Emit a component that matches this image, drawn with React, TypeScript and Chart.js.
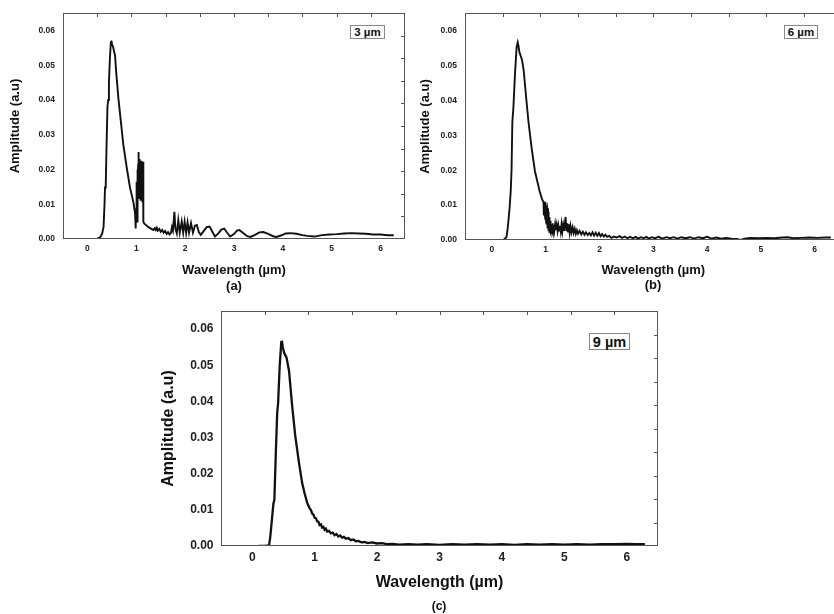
import React, { useEffect, useRef } from "react";
import { Chart, registerables } from "chart.js";

Chart.register(...registerables);

// ---------- axis ticks / labels ----------
const xTickValues = [0, 1, 2, 3, 4, 5, 6];
const xTickLabels = ["0", "1", "2", "3", "4", "5", "6"];
const yTickValues = [0, 0.01, 0.02, 0.03, 0.04, 0.05, 0.06];
const yTickLabels = ["0.00", "0.01", "0.02", "0.03", "0.04", "0.05", "0.06"];
const frameTickValues = [1, 2, 3, 4, 5, 6, 7, 8, 9];
const xAxisTitle = "Wavelength (µm)";
const yAxisTitle = "Amplitude (a.u)";
const panelTags = ["3 µm", "6 µm", "9 µm"];
const panelCaptions = ["(a)", "(b)", "(c)"];

// ---------- series (wavelength µm, amplitude a.u) ----------
const spectrum3um: [number, number][] = [
  [0.09, 0], [0.2, 0.0001], [0.26, 0.0005], [0.3, 0.0015], [0.33, 0.0035], [0.35, 0.01],
  [0.36, 0.0148], [0.375, 0.0155], [0.39, 0.026], [0.41, 0.038], [0.425, 0.04], [0.44, 0.045],
  [0.46, 0.052], [0.48, 0.0567], [0.49, 0.0568], [0.5, 0.056], [0.52, 0.0555], [0.545, 0.054],
  [0.565, 0.0528], [0.59, 0.0478], [0.635, 0.0403], [0.685, 0.0337], [0.735, 0.0271],
  [0.805, 0.0205], [0.87, 0.0149], [0.94, 0.0106], [0.975, 0.0074], [0.985, 0.0045],
  [0.99, 0.003], [0.995, 0.0085],
  [1.0, 0.0165], [1.0025, 0.012], [1.005, 0.0095], [1.0075, 0.015], [1.01, 0.016], [1.0125, 0.009],
  [1.015, 0.005], [1.0175, 0.012], [1.02, 0.015], [1.0225, 0.01], [1.025, 0.011], [1.0275, 0.0185],
  [1.03, 0.02], [1.0325, 0.013], [1.035, 0.012], [1.0375, 0.0215], [1.04, 0.025], [1.0425, 0.015],
  [1.045, 0.013], [1.0475, 0.021], [1.05, 0.0235], [1.0525, 0.014], [1.055, 0.0115], [1.0575, 0.02],
  [1.06, 0.022], [1.0625, 0.0125], [1.065, 0.014], [1.0675, 0.0215], [1.07, 0.023], [1.0725, 0.0135],
  [1.075, 0.012], [1.0775, 0.0195], [1.08, 0.021], [1.0825, 0.0115], [1.085, 0.0125], [1.0875, 0.0205],
  [1.09, 0.0225], [1.0925, 0.013], [1.095, 0.011], [1.0975, 0.0185], [1.1, 0.02], [1.1025, 0.012],
  [1.105, 0.0125], [1.1075, 0.021], [1.11, 0.0225], [1.1125, 0.0135], [1.115, 0.014], [1.1175, 0.0205],
  [1.12, 0.0222], [1.1225, 0.012], [1.125, 0.0105], [1.1275, 0.019], [1.13, 0.022], [1.1325, 0.014],
  [1.135, 0.0135], [1.1375, 0.02], [1.14, 0.0222], [1.1425, 0.012], [1.145, 0.008],
  [1.15, 0.005], [1.16, 0.0045],
  [1.2, 0.004], [1.25, 0.0034], [1.3, 0.003], [1.35, 0.0026], [1.38, 0.0031], [1.4, 0.0026],
  [1.42, 0.0032], [1.44, 0.0024], [1.47, 0.0029], [1.5, 0.0021], [1.53, 0.0026], [1.56, 0.0018],
  [1.59, 0.0023], [1.62, 0.0015], [1.65, 0.002], [1.68, 0.0013], [1.71, 0.0018], [1.73, 0.0034],
  [1.75, 0.0024], [1.78, 0.0078], [1.8, 0.003], [1.83, 0.0016], [1.86, 0.0054], [1.89, 0.0018],
  [1.93, 0.005], [1.96, 0.0018], [1.99, 0.005], [2.02, 0.0017], [2.05, 0.0048], [2.08, 0.0018],
  [2.12, 0.0046], [2.16, 0.0018], [2.2, 0.0038], [2.24, 0.004], [2.28, 0.002], [2.32, 0.0012],
  [2.37, 0.0021], [2.44, 0.0034], [2.5, 0.0036], [2.56, 0.002], [2.61, 0.0007], [2.68, 0.0016],
  [2.74, 0.0027], [2.8, 0.003], [2.86, 0.0018], [2.92, 0.0007], [3.0, 0.0014], [3.06, 0.0024],
  [3.11, 0.0026], [3.2, 0.0016], [3.27, 0.0008], [3.34, 0.0006], [3.43, 0.0012], [3.52, 0.0019],
  [3.6, 0.002], [3.7, 0.0015], [3.8, 0.0008], [3.87, 0.0006], [3.96, 0.001], [4.06, 0.0016],
  [4.15, 0.0017], [4.28, 0.0015], [4.4, 0.0011], [4.5, 0.0009], [4.65, 0.0007], [4.8, 0.0011],
  [4.95, 0.0013], [5.1, 0.0014], [5.25, 0.0016], [5.4, 0.0017], [5.55, 0.0016], [5.7, 0.0015],
  [5.85, 0.0013], [6.0, 0.0013], [6.15, 0.0011], [6.27, 0.0011],
];

const spectrum6um: [number, number][] = [
  [0.09, 0], [0.22, 0.0001], [0.27, 0.0008], [0.29, 0.0028], [0.31, 0.006], [0.33, 0.0094],
  [0.35, 0.0141], [0.365, 0.02], [0.38, 0.0338], [0.4, 0.038], [0.43, 0.0478], [0.46, 0.0553],
  [0.48, 0.0566], [0.495, 0.0555], [0.51, 0.0539], [0.54, 0.0525], [0.56, 0.0516], [0.59, 0.0487],
  [0.64, 0.0403], [0.68, 0.0338], [0.74, 0.0262], [0.8, 0.0197], [0.885, 0.0141], [0.93, 0.0118],
  [0.96, 0.0108], [0.9625, 0.008], [0.965, 0.0098], [0.9675, 0.0072], [0.97, 0.0085], [0.9725, 0.0106],
  [0.975, 0.0105], [0.9775, 0.0068], [0.98, 0.0075], [0.9825, 0.0102], [0.985, 0.011], [0.9875, 0.0066],
  [0.99, 0.007], [0.9925, 0.0098], [0.995, 0.01], [0.9975, 0.0058], [1.0, 0.006], [1.0025, 0.0095],
  [1.005, 0.0108], [1.0075, 0.0052], [1.01, 0.0055], [1.0125, 0.009], [1.015, 0.0095], [1.0175, 0.0046],
  [1.02, 0.0045], [1.0225, 0.0085], [1.025, 0.009], [1.0275, 0.0038], [1.03, 0.004], [1.0325, 0.008],
  [1.035, 0.0085], [1.0375, 0.0033], [1.04, 0.0035], [1.0425, 0.0076], [1.045, 0.008], [1.0475, 0.003],
  [1.05, 0.003], [1.0525, 0.0068], [1.055, 0.0072], [1.0575, 0.0026], [1.06, 0.0025], [1.0625, 0.0062],
  [1.065, 0.0065], [1.0675, 0.0027], [1.07, 0.0028], [1.0725, 0.0058], [1.075, 0.006], [1.0775, 0.0024],
  [1.08, 0.0025], [1.0825, 0.0052], [1.085, 0.0055], [1.0875, 0.0023], [1.09, 0.0022], [1.0925, 0.0048],
  [1.095, 0.005], [1.0975, 0.0021], [1.1, 0.002], [1.105, 0.0046], [1.11, 0.0045], [1.115, 0.0024],
  [1.12, 0.0025], [1.125, 0.0047], [1.13, 0.0048], [1.135, 0.002], [1.14, 0.0019], [1.145, 0.0043],
  [1.15, 0.0042], [1.16, 0.0027], [1.175, 0.0045], [1.19, 0.0028],
  [1.205, 0.0043], [1.22, 0.0026], [1.235, 0.0042], [1.25, 0.0027], [1.265, 0.004], [1.28, 0.0024],
  [1.295, 0.0045], [1.31, 0.0025], [1.325, 0.0042], [1.34, 0.0026], [1.37, 0.0066], [1.385, 0.0025],
  [1.4, 0.0048], [1.415, 0.0024], [1.43, 0.0045], [1.445, 0.0022], [1.46, 0.004], [1.48, 0.0022],
  [1.5, 0.0036], [1.52, 0.002], [1.54, 0.0032], [1.56, 0.0018], [1.58, 0.0028], [1.6, 0.0018],
  [1.63, 0.0026], [1.66, 0.0016], [1.69, 0.0024], [1.72, 0.0015], [1.75, 0.0022], [1.78, 0.0014],
  [1.81, 0.002], [1.84, 0.0013], [1.87, 0.0022], [1.9, 0.0013], [1.93, 0.0021], [1.96, 0.0012],
  [1.99, 0.002], [2.02, 0.0011], [2.05, 0.0017], [2.08, 0.001], [2.11, 0.0015], [2.14, 0.0009],
  [2.18, 0.0012], [2.22, 0.0006], [2.27, 0.001], [2.32, 0.0007], [2.37, 0.0011], [2.42, 0.0006],
  [2.47, 0.001], [2.52, 0.0005], [2.57, 0.0009], [2.62, 0.0005], [2.67, 0.0009], [2.72, 0.0004],
  [2.77, 0.0008], [2.82, 0.0005], [2.87, 0.0009], [2.92, 0.0004], [2.97, 0.0008], [3.03, 0.0005],
  [3.1, 0.0009], [3.17, 0.0004], [3.24, 0.0008], [3.31, 0.0005], [3.38, 0.0008], [3.45, 0.0004],
  [3.52, 0.0008], [3.6, 0.0005], [3.68, 0.0008], [3.76, 0.0004], [3.84, 0.0008], [3.92, 0.0005],
  [4.0, 0.0009], [4.08, 0.0004], [4.17, 0.0007], [4.26, 0.0004], [4.35, 0.0006], [4.45, 0.0004],
  [4.55, 0.0003], [4.62, 0.0], [4.7, 0.0004], [4.8, 0.0006], [4.95, 0.0005], [5.1, 0.0006],
  [5.25, 0.0005], [5.4, 0.0007], [5.5, 0.0008], [5.6, 0.0005], [5.75, 0.0006], [5.9, 0.0007],
  [6.05, 0.0006], [6.2, 0.0007], [6.3, 0.0007],
];

const spectrum9um: [number, number][] = [
  [0.1, 0], [0.2, 0], [0.27, 0.0002], [0.29, 0.0026], [0.32, 0.0081], [0.34, 0.0118],
  [0.355, 0.0128], [0.38, 0.0267], [0.4, 0.0368], [0.415, 0.0396], [0.44, 0.0498], [0.465, 0.0563],
  [0.475, 0.0568], [0.49, 0.055], [0.51, 0.0535], [0.55, 0.0521], [0.59, 0.0484], [0.64, 0.0387],
  [0.69, 0.0304], [0.75, 0.0229], [0.8, 0.0174], [0.84, 0.0145], [0.88, 0.012], [0.9, 0.0112],
  [0.92, 0.0104], [0.94, 0.01], [0.96, 0.009], [0.98, 0.0087], [1.0, 0.0078], [1.02, 0.0077],
  [1.04, 0.0068], [1.06, 0.0067], [1.08, 0.0058], [1.1, 0.006], [1.12, 0.0051], [1.14, 0.0053],
  [1.16, 0.0045], [1.18, 0.0048], [1.2, 0.004], [1.23, 0.0042], [1.26, 0.0035], [1.29, 0.0037],
  [1.32, 0.003], [1.35, 0.0033], [1.38, 0.0026], [1.41, 0.0029], [1.44, 0.0023], [1.47, 0.0025],
  [1.5, 0.002], [1.54, 0.0022], [1.58, 0.0016], [1.62, 0.0018], [1.66, 0.0013], [1.7, 0.0014],
  [1.75, 0.001], [1.8, 0.0011], [1.85, 0.0008], [1.92, 0.001], [2.0, 0.0007], [2.08, 0.0008],
  [2.15, 0.0005], [2.25, 0.0006], [2.35, 0.0004], [2.5, 0.0005], [2.65, 0.0004], [2.8, 0.0005],
  [3.0, 0.0003], [3.2, 0.0005], [3.4, 0.0004], [3.6, 0.0005], [3.8, 0.0004], [4.0, 0.0005],
  [4.2, 0.0003], [4.4, 0.0005], [4.6, 0.0004], [4.8, 0.0005], [5.0, 0.0004], [5.2, 0.0005],
  [5.4, 0.0004], [5.6, 0.0005], [5.8, 0.0005], [6.0, 0.0006], [6.15, 0.0005], [6.29, 0.0005],
];

const FONT = '"Liberation Sans", Arial, Helvetica, sans-serif';
const INK = "#111";

type PanelSpec = {
  data: [number, number][];
  lineW: number;
  left: number; top: number; w: number; h: number;
  padTop: number; padRight: number; yAxisW: number; xAxisH: number;
  tickFont: number; yTickPad: number; xTickPad: number;
  titleFont: number; yTitlePad: number; xTitlePad: number;
  tag: string; tagBox: { left: number; top: number; w: number; h: number; font: number };
  caption: string; capX: number; capY: number; capFont: number;
};

const framePlugin = {
  id: "frame",
  afterDatasetsDraw(chart: any) {
    const { ctx, chartArea: a } = chart;
    const x2 = chart.scales.x2;
    const y2 = chart.scales.y2;
    ctx.save();
    ctx.strokeStyle = "#555";
    ctx.lineWidth = 1;
    ctx.strokeRect(Math.round(a.left) + 0.5, Math.round(a.top) + 0.5,
      Math.round(a.right - a.left) - 1, Math.round(a.bottom - a.top) - 1);
    ctx.beginPath();
    frameTickValues.forEach((v) => {
      const px = Math.round(x2.getPixelForValue(v)) + 0.5;
      ctx.moveTo(px, a.top);
      ctx.lineTo(px, a.top + 4);
      const py = Math.round(y2.getPixelForValue(v)) + 0.5;
      ctx.moveTo(a.right, py);
      ctx.lineTo(a.right - 4, py);
    });
    ctx.stroke();
    ctx.restore();
  },
};

function Panel({ p }: { p: PanelSpec }) {
  const ref = useRef<HTMLCanvasElement | null>(null);
  useEffect(() => {
    if (!ref.current) return;
    const chart = new Chart(ref.current, {
      type: "line",
      data: {
        datasets: [
          {
            data: p.data.map(([x, y]) => ({ x, y })),
            borderColor: INK,
            borderWidth: p.lineW,
            pointRadius: 0,
            tension: 0,
            fill: false,
          },
        ],
      },
      options: {
        responsive: false,
        animation: false,
        maintainAspectRatio: false,
        layout: { padding: { left: 0, top: p.padTop, right: p.padRight, bottom: 0 } },
        plugins: { legend: { display: false }, tooltip: { enabled: false } },
        scales: {
          x: {
            type: "linear",
            min: -0.5,
            max: 6.5,
            afterBuildTicks: (s: any) => {
              s.ticks = xTickValues.map((v) => ({ value: v }));
            },
            afterFit: (s: any) => {
              s.height = p.xAxisH;
            },
            ticks: {
              autoSkip: false,
              maxRotation: 0,
              padding: p.xTickPad,
              color: "#222",
              font: { family: FONT, size: p.tickFont, weight: "bold" },
              callback: (v: any) => xTickLabels[xTickValues.indexOf(Number(v))] ?? "",
            },
            grid: { display: false, drawTicks: false },
            border: { display: false },
            title: {
              display: true,
              text: xAxisTitle,
              color: INK,
              font: { family: FONT, size: p.titleFont, weight: "bold" },
              padding: { top: 0, bottom: p.xTitlePad },
            },
          },
          y: {
            type: "linear",
            min: 0,
            max: 0.065,
            afterBuildTicks: (s: any) => {
              s.ticks = yTickValues.map((v) => ({ value: v }));
            },
            afterFit: (s: any) => {
              s.width = p.yAxisW;
            },
            ticks: {
              autoSkip: false,
              padding: p.yTickPad,
              color: "#222",
              font: { family: FONT, size: p.tickFont, weight: "bold" },
              callback: (v: any) => {
                const i = yTickValues.findIndex((t) => Math.abs(t - Number(v)) < 1e-9);
                return i >= 0 ? yTickLabels[i] : "";
              },
            },
            grid: { display: false, drawTicks: false },
            border: { display: false },
            title: {
              display: true,
              text: yAxisTitle,
              color: INK,
              font: { family: FONT, size: p.titleFont, weight: "bold" },
              padding: { top: p.yTitlePad, bottom: 0 },
            },
          },
          x2: { type: "linear", position: "top", min: 0, max: 10, display: false },
          y2: { type: "linear", position: "right", min: 0, max: 10, display: false },
        },
      } as any,
      plugins: [framePlugin],
    });
    return () => chart.destroy();
  }, []);

  return (
    <>
      <div style={{ position: "absolute", left: p.left, top: p.top, width: p.w, height: p.h }}>
        <canvas ref={ref} width={p.w} height={p.h} style={{ display: "block", width: p.w, height: p.h }} />
      </div>
      <div
        style={{
          position: "absolute",
          left: p.tagBox.left,
          top: p.tagBox.top,
          width: p.tagBox.w,
          height: p.tagBox.h,
          boxSizing: "border-box",
          border: "1px solid #888",
          background: "#fff",
          fontFamily: FONT,
          fontWeight: "bold",
          fontSize: p.tagBox.font,
          color: INK,
          display: "flex",
          alignItems: "center",
          justifyContent: "center",
          whiteSpace: "nowrap",
        }}
      >
        {p.tag}
      </div>
      <div
        style={{
          position: "absolute",
          left: p.capX - 30,
          top: p.capY - 10,
          width: 60,
          height: 20,
          lineHeight: "20px",
          textAlign: "center",
          fontFamily: FONT,
          fontWeight: "bold",
          fontSize: p.capFont,
          color: INK,
        }}
      >
        {p.caption}
      </div>
    </>
  );
}

const panels: PanelSpec[] = [
  {
    data: spectrum3um, lineW: 1.9,
    left: 0, top: 0, w: 420, h: 300,
    padTop: 10, padRight: 15, yAxisW: 63, xAxisH: 61,
    tickFont: 8.5, yTickPad: 8, xTickPad: 4.5,
    titleFont: 13, yTitlePad: 8, xTitlePad: 22,
    tag: panelTags[0], tagBox: { left: 350, top: 25, w: 35, h: 14, font: 11.5 },
    caption: panelCaptions[0], capX: 234, capY: 286, capFont: 13,
  },
  {
    data: spectrum6um, lineW: 1.9,
    left: 414, top: 0, w: 432, h: 300,
    padTop: 10, padRight: 4.4, yAxisW: 51, xAxisH: 60,
    tickFont: 8.5, yTickPad: 8, xTickPad: 5,
    titleFont: 13, yTitlePad: 4, xTitlePad: 21.5,
    tag: panelTags[1], tagBox: { left: 784, top: 25, w: 34, h: 14, font: 11.5 },
    caption: panelCaptions[1], capX: 653, capY: 285, capFont: 13,
  },
  {
    data: spectrum9um, lineW: 2.3,
    left: 150, top: 290, w: 520, h: 324,
    padTop: 21, padRight: 12, yAxisW: 71, xAxisH: 68,
    tickFont: 12, yTickPad: 7.5, xTickPad: 4.5,
    titleFont: 16, yTitlePad: 8.7, xTitlePad: 21.7,
    tag: panelTags[2], tagBox: { left: 589, top: 333, w: 41, h: 17, font: 14.5 },
    caption: panelCaptions[2], capX: 439, capY: 606, capFont: 12,
  },
];

export default function App() {
  return (
    <div
      style={{
        position: "absolute",
        left: 0,
        top: 0,
        width: 834,
        height: 614,
        overflow: "hidden",
        background: "#fff",
      }}
    >
      {panels.map((p, i) => (
        <Panel key={i} p={p} />
      ))}
    </div>
  );
}
